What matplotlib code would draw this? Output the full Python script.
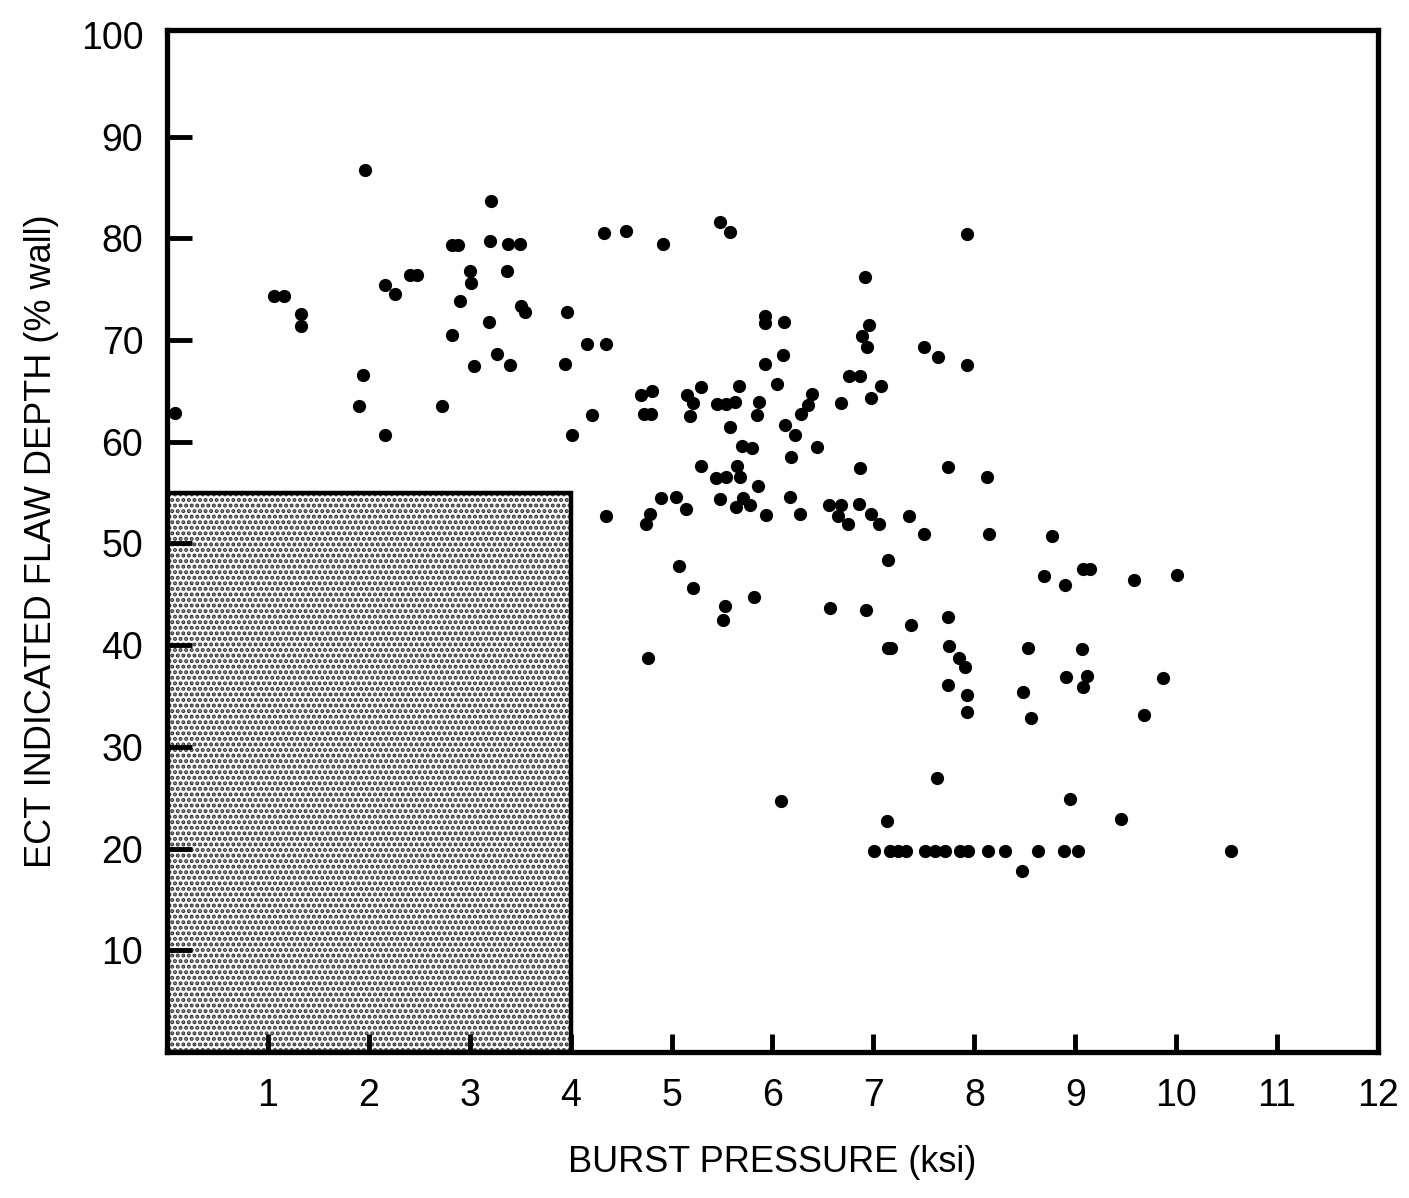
"""ECT indicated flaw depth vs. burst pressure scatter, with the shaded acceptance box."""

import matplotlib
matplotlib.use('Agg')
import matplotlib.pyplot as plt
from matplotlib.patches import Rectangle


burst_pressure = [
    0.08, 1.06, 1.16, 1.33, 1.33, 1.96, 1.90, 1.94, 2.16, 2.16,
    2.26, 2.41, 2.48, 2.73, 2.82, 2.82, 2.88, 2.90, 3.00, 3.01,
    3.04, 3.21, 3.20, 3.19, 3.27, 3.38, 3.50, 3.37, 3.40, 3.51,
    3.55, 3.96, 3.94, 4.01, 4.21, 4.16, 4.35, 4.33, 4.55, 4.92,
    5.48, 5.58, 7.93, 6.92, 5.93, 5.93, 6.11, 6.96, 6.89, 6.94,
    7.50, 7.64, 7.93, 5.93, 6.10, 6.76, 6.87, 7.08, 6.98, 6.68,
    6.04, 5.67, 5.29, 4.81, 4.70, 4.73, 4.80, 5.15, 5.21, 5.18,
    5.45, 5.54, 5.63, 5.87, 5.85, 6.39, 6.35, 6.28, 5.58, 6.12,
    6.22, 6.44, 5.70, 5.80, 6.18, 6.87, 7.74, 8.13, 5.29, 5.65,
    5.68, 5.44, 5.54, 5.86, 4.90, 5.04, 5.14, 5.48, 5.71, 5.64,
    5.78, 5.94, 6.17, 6.27, 6.56, 6.68, 6.65, 6.75, 6.86, 6.98,
    7.06, 7.35, 7.50, 8.15, 4.35, 4.79, 4.75, 5.07, 5.21, 5.53,
    5.51, 5.82, 4.77, 6.57, 6.93, 7.14, 7.14, 7.17, 7.37, 7.74,
    7.75, 7.85, 7.91, 7.74, 7.93, 7.93, 8.69, 8.53, 8.48, 8.56,
    7.63, 6.08, 7.13,
    7.01, 7.16, 7.24, 7.32, 7.51, 7.61, 7.71, 7.86, 7.94, 8.14,
    8.30, 8.63, 8.89, 9.03, 10.54,
    8.47, 8.77, 8.90, 9.08, 9.15, 9.58, 10.01, 9.07, 8.91, 9.12,
    9.08, 9.87, 9.68, 8.95, 9.45,
]

flaw_depth = [
    62.8, 74.3, 74.3, 72.6, 71.4, 86.7, 63.5, 66.6, 60.7, 75.4,
    74.5, 76.4, 76.4, 63.5, 70.5, 79.4, 79.4, 73.8, 76.8, 75.6,
    67.5, 83.7, 79.7, 71.8, 68.6, 79.5, 79.5, 76.8, 67.6, 73.4,
    72.8, 72.8, 67.7, 60.7, 62.6, 69.6, 69.6, 80.5, 80.7, 79.5,
    81.6, 80.6, 80.4, 76.2, 72.4, 71.7, 71.8, 71.5, 70.4, 69.3,
    69.3, 68.3, 67.6, 67.7, 68.5, 66.5, 66.5, 65.5, 64.3, 63.8,
    65.7, 65.5, 65.4, 65.0, 64.6, 62.7, 62.7, 64.6, 63.8, 62.5,
    63.7, 63.7, 63.9, 63.9, 62.6, 64.7, 63.6, 62.7, 61.5, 61.7,
    60.7, 59.5, 59.6, 59.4, 58.5, 57.4, 57.5, 56.5, 57.6, 57.6,
    56.5, 56.4, 56.5, 55.7, 54.5, 54.6, 53.4, 54.4, 54.5, 53.6,
    53.8, 52.8, 54.6, 52.9, 53.8, 53.8, 52.7, 51.9, 53.9, 52.9,
    51.9, 52.7, 50.9, 50.9, 52.7, 52.9, 51.9, 47.8, 45.6, 43.9,
    42.5, 44.7, 38.7, 43.7, 43.5, 48.4, 39.7, 39.7, 42.0, 42.8,
    39.9, 38.7, 37.9, 36.1, 35.1, 33.4, 46.8, 39.7, 35.4, 32.8,
    26.9, 24.7, 22.7,
    19.8, 19.8, 19.8, 19.8, 19.8, 19.8, 19.8, 19.8, 19.8, 19.8,
    19.8, 19.8, 19.8, 19.8, 19.8,
    17.8, 50.7, 45.9, 47.5, 47.5, 46.4, 46.9, 39.6, 36.9, 37.0,
    35.9, 36.8, 33.1, 24.9, 22.9,
]

# shaded region: burst pressure below 4 ksi, flaw depth below 55 %
box_pressure = 4.0
box_depth = 55.0

x_ticks = list(range(1, 13))
y_ticks = list(range(10, 101, 10))

plt.rcParams['font.family'] = ['Liberation Sans', 'DejaVu Sans']
plt.rcParams['hatch.linewidth'] = 2.0

fig = plt.figure(figsize=(14.09, 11.98), dpi=100)
ax = fig.add_axes([0.1185, 0.1219, 0.8595, 0.8531])

# stippled box
ax.add_patch(Rectangle(
    (0, 0), box_pressure, box_depth,
    facecolor='white', edgecolor='#333333', hatch='...', linewidth=0, zorder=1,
))
ax.add_patch(Rectangle(
    (0, 0), box_pressure, box_depth,
    facecolor='none', edgecolor='black', linewidth=3.2, zorder=2,
))

ax.plot(burst_pressure, flaw_depth, 'o', color='black', markersize=8.5,
        linestyle='none', clip_on=False, zorder=3)

ax.set_xlim(0, 12)
ax.set_ylim(0, 100.5)

ax.set_xticks(x_ticks)
ax.set_xticklabels([str(t) for t in x_ticks])
ax.set_yticks(y_ticks)
ax.set_yticklabels([str(t) for t in y_ticks])

ax.tick_params(axis='both', direction='in', width=3.5, labelsize=27, colors='black')
ax.tick_params(axis='x', length=13, pad=19)
ax.tick_params(axis='y', length=18, pad=17)
# corner ticks coincide with the frame
ax.yaxis.get_major_ticks()[-1].tick1line.set_visible(False)
ax.xaxis.get_major_ticks()[-1].tick1line.set_visible(False)

for side in ax.spines.values():
    side.set_linewidth(3.8)

ax.set_xlabel('BURST PRESSURE (ksi)', fontsize=26, labelpad=22)
ax.set_ylabel('ECT INDICATED FLAW DEPTH (% wall)', fontsize=26, labelpad=16)

fig.savefig('out.png', dpi=100)
plt.close(fig)
